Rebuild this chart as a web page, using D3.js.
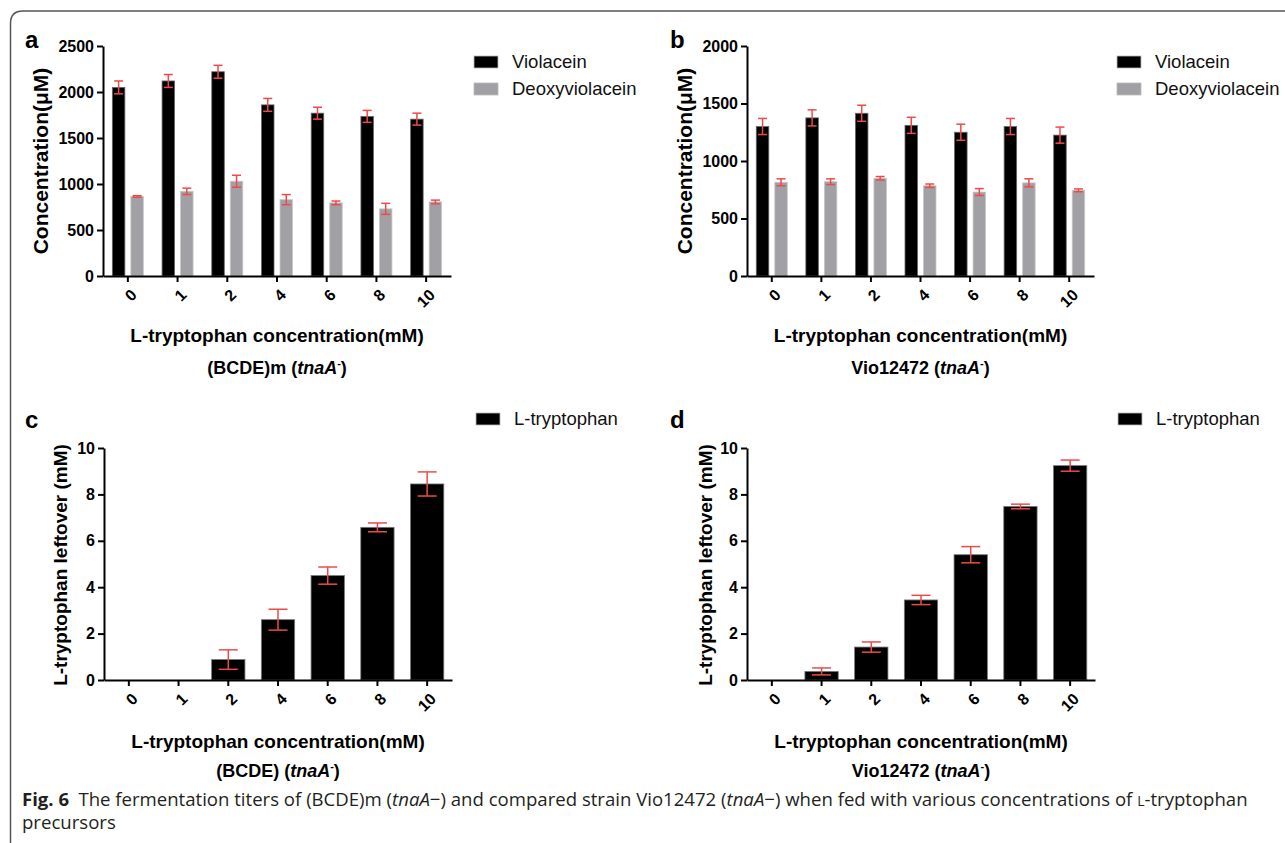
<!DOCTYPE html>
<html><head><meta charset="utf-8">
<script src="https://cdn.jsdelivr.net/npm/d3@7"></script>
<style>
body{margin:0;background:#fff;}
svg{display:block;}
</style></head>
<body>
<svg id="chart" width="1285" height="843"></svg>
<script>
// ---------- data ----------
const categories = ["0","1","2","4","6","8","10"];
const seriesAB = ["Violacein","Deoxyviolacein"];
const violaceinA = [2050, 2120, 2220, 1860, 1770, 1735, 1705];
const violaceinAErr = [70, 70, 70, 70, 65, 65, 65];
const deoxyA = [865, 920, 1030, 830, 795, 730, 805];
const deoxyAErr = [8, 35, 65, 55, 20, 60, 20];
const violaceinB = [1300, 1375, 1415, 1310, 1250, 1300, 1225];
const violaceinBErr = [70, 70, 70, 70, 70, 70, 70];
const deoxyB = [815, 820, 850, 785, 730, 810, 745];
const deoxyBErr = [30, 25, 15, 15, 30, 35, 12];
const leftoverC = [0, 0, 0.88, 2.6, 4.5, 6.58, 8.45];
const leftoverCErr = [0, 0, 0.42, 0.45, 0.37, 0.19, 0.52];
const leftoverD = [0, 0.37, 1.42, 3.45, 5.4, 7.48, 9.24];
const leftoverDErr = [0, 0.15, 0.22, 0.2, 0.35, 0.1, 0.24];
const yTicksA = [0, 500, 1000, 1500, 2000, 2500];
const yTicksB = [0, 500, 1000, 1500, 2000];
const yTicksCD = [0, 2, 4, 6, 8, 10];

const svg = d3.select("#chart");
const FONT = "'Liberation Sans', Arial, sans-serif";
const colors = {Violacein: "#000000", Deoxyviolacein: "#a1a1a5"};
const ERR = "#ee4a4a";

// frame
svg.append("path")
  .attr("d", "M1290,11 L23,11 Q10.5,11 10.5,23.5 L10.5,845")
  .attr("fill", "none").attr("stroke", "#555").attr("stroke-width", 1.5);

function axes(g, x, y, yTicks, x0, x1, y0, y1) {
  const ya = g.append("g").attr("transform", `translate(${x0},0)`)
    .call(d3.axisLeft(y).tickValues(yTicks).tickFormat(d3.format("d"))
      .tickSize(6).tickSizeOuter(0).tickPadding(3));
  const xa = g.append("g").attr("transform", `translate(0,${y0})`)
    .call(d3.axisBottom(x).tickSize(6).tickSizeOuter(0).tickPadding(0));
  [ya, xa].forEach(a => {
    a.select(".domain").attr("stroke", "#000").attr("stroke-width", 2);
    a.selectAll(".tick line").attr("stroke", "#000").attr("stroke-width", 2);
    a.selectAll("text").attr("font-family", FONT).attr("font-weight", "bold")
      .attr("font-size", 16).attr("fill", "#000");
  });
  xa.selectAll(".tick text")
    .attr("text-anchor", "end").attr("dy", "0.35em").attr("y", 0)
    .attr("transform", "translate(6,16) rotate(-45)");
}

function errorBars(g, data, capW) {
  data.forEach(d => {
    if (d.err <= 0) return;
    const eg = g.append("g").attr("stroke", ERR).attr("stroke-width", 1.5);
    eg.append("line").attr("x1", d.cx).attr("x2", d.cx).attr("y1", d.yHi).attr("y2", d.yLo);
    eg.append("line").attr("x1", d.cx - capW/2).attr("x2", d.cx + capW/2).attr("y1", d.yHi).attr("y2", d.yHi);
    eg.append("line").attr("x1", d.cx - capW/2).attr("x2", d.cx + capW/2).attr("y1", d.yLo).attr("y2", d.yLo);
  });
}

function titleWithStrain(g, cx, y1, y2, strain) {
  g.append("text").attr("x", cx).attr("y", y1).attr("text-anchor", "middle")
    .attr("font-family", FONT).attr("font-weight", "bold").attr("font-size", 19)
    .text("L-tryptophan concentration(mM)");
  const t = g.append("text").attr("x", cx).attr("y", y2).attr("text-anchor", "middle")
    .attr("font-family", FONT).attr("font-weight", "bold").attr("font-size", 18);
  t.append("tspan").text(strain + " (");
  t.append("tspan").attr("font-style", "italic").text("tnaA");
  t.append("tspan").attr("font-size", 11).attr("dy", -7).text("-");
  t.append("tspan").attr("dy", 7).text(")");
}

function yLabel(g, x, cy, txt, fs) {
  g.append("text").attr("transform", `translate(${x},${cy}) rotate(-90)`)
    .attr("text-anchor", "middle").attr("font-family", FONT)
    .attr("font-weight", "bold").attr("font-size", fs).text(txt);
}

function panelLetter(g, x, y, L) {
  g.append("text").attr("x", x).attr("y", y).attr("font-family", FONT)
    .attr("font-weight", "bold").attr("font-size", 24).text(L);
}

function legend(g, x, y, items) {
  items.forEach((it, i) => {
    g.append("rect").attr("x", x).attr("y", y + i*27 - 6).attr("width", 24).attr("height", 12)
      .attr("fill", it.color).attr("stroke", "#bbb").attr("stroke-width", 0.8);
    g.append("text").attr("x", x + 38).attr("y", y + i*27).attr("dy", "0.35em")
      .attr("font-family", FONT).attr("font-size", 18.5).attr("fill", "#111").text(it.name);
  });
}

// ---------- grouped panels (a, b) ----------
function groupedPanel(opt) {
  const g = svg.append("g");
  const x = d3.scaleBand().domain(categories).range([opt.x0, opt.x1]).padding(0);
  const y = d3.scaleLinear().domain([0, opt.yMax]).range([opt.y0, opt.y1]);
  const x1 = d3.scaleBand().domain(seriesAB).range([-15.5, 15.5]).paddingInner(0.324);
  const vals = {Violacein: opt.v, Deoxyviolacein: opt.dv};
  const errs = {Violacein: opt.ve, Deoxyviolacein: opt.dve};
  const eb = [];
  seriesAB.forEach(s => {
    g.append("g").selectAll("rect").data(categories).join("rect")
      .attr("x", (c) => x(c) + x.bandwidth()/2 + x1(s))
      .attr("width", x1.bandwidth())
      .attr("y", (c, i) => y(vals[s][i]))
      .attr("height", (c, i) => opt.y0 - y(vals[s][i]))
      .attr("fill", colors[s])
      .attr("stroke", s === "Violacein" ? "#666" : "#c8c8ca").attr("stroke-width", 0.8);
    categories.forEach((c, i) => eb.push({
      cx: x(c) + x.bandwidth()/2 + x1(s) + x1.bandwidth()/2,
      yHi: y(vals[s][i] + errs[s][i]), yLo: y(vals[s][i] - errs[s][i]), err: errs[s][i]}));
  });
  errorBars(g, eb, 9);
  axes(g, x, y, opt.ticks, opt.x0, opt.x1, opt.y0, opt.y1);
  yLabel(g, opt.labX, (opt.y0 + opt.y1)/2, "Concentration(μM)", 21);
  titleWithStrain(g, (opt.x0 + opt.x1)/2, opt.y0 + 66, opt.y0 + 98, opt.strain);
  panelLetter(g, opt.letX, opt.letY, opt.letter);
  legend(g, opt.legX, opt.legY, seriesAB.map(s => ({name: s, color: colors[s]})));
}

groupedPanel({x0: 103, x1: 451, y0: 276, y1: 46, yMax: 2500, ticks: yTicksA,
  v: violaceinA, ve: violaceinAErr, dv: deoxyA, dve: deoxyAErr,
  labX: 48, strain: "(BCDE)m", letter: "a", letX: 25, letY: 48, legX: 474, legY: 62});
groupedPanel({x0: 747, x1: 1094, y0: 276, y1: 46, yMax: 2000, ticks: yTicksB,
  v: violaceinB, ve: violaceinBErr, dv: deoxyB, dve: deoxyBErr,
  labX: 692, strain: "Vio12472", letter: "b", letX: 670, letY: 48, legX: 1117, legY: 62});

// ---------- single panels (c, d) ----------
function singlePanel(opt) {
  const g = svg.append("g");
  const x = d3.scaleBand().domain(categories).range([opt.x0, opt.x1]).padding(0);
  const y = d3.scaleLinear().domain([0, 10]).range([opt.y0, opt.y1]);
  const bw = x.bandwidth() * 0.67;
  g.append("g").selectAll("rect").data(categories).join("rect")
    .attr("x", c => x(c) + (x.bandwidth() - bw)/2)
    .attr("width", bw)
    .attr("y", (c, i) => y(opt.v[i]))
    .attr("height", (c, i) => opt.y0 - y(opt.v[i]))
    .attr("fill", "#000").attr("stroke", "#777").attr("stroke-width", 0.8);
  errorBars(g, categories.map((c, i) => ({cx: x(c) + x.bandwidth()/2,
    yHi: y(opt.v[i] + opt.e[i]), yLo: y(opt.v[i] - opt.e[i]), err: opt.e[i]})), 19);
  axes(g, x, y, yTicksCD, opt.x0, opt.x1, opt.y0, opt.y1);
  yLabel(g, opt.labX, (opt.y0 + opt.y1)/2 + 1, "L-tryptophan leftover (mM)", 19);
  titleWithStrain(g, (opt.x0 + opt.x1)/2, opt.y0 + 68, opt.y0 + 97, opt.strain);
  panelLetter(g, opt.letX, opt.letY, opt.letter);
  legend(g, opt.legX, opt.legY, [{name: "L-tryptophan", color: "#000"}]);
}

singlePanel({x0: 104, x1: 452, y0: 680, y1: 448, v: leftoverC, e: leftoverCErr,
  labX: 67, strain: "(BCDE)", letter: "c", letX: 25, letY: 428, legX: 476, legY: 419});
singlePanel({x0: 747, x1: 1095, y0: 680, y1: 448, v: leftoverD, e: leftoverDErr,
  labX: 712, strain: "Vio12472", letter: "d", letX: 670, letY: 428, legX: 1118, legY: 419});

// ---------- caption ----------
const CAP = "'Open Sans', 'Noto Sans', sans-serif";
const cap1 = svg.append("text").attr("x", 22).attr("y", 806)
  .attr("font-family", CAP).attr("font-size", 16).attr("fill", "#231f20");
cap1.append("tspan").attr("font-weight", "bold").text("Fig. 6");
cap1.append("tspan").text("\u2002The fermentation titers of (BCDE)m (");
cap1.append("tspan").attr("font-style", "italic").text("tnaA");
cap1.append("tspan").text("\u2212) and compared strain Vio12472 (");
cap1.append("tspan").attr("font-style", "italic").text("tnaA");
cap1.append("tspan").text("\u2212) when fed with various concentrations of ");
cap1.append("tspan").attr("font-size", 12).text("L");
cap1.append("tspan").text("-tryptophan");
const cap2 = svg.append("text").attr("x", 22).attr("y", 829)
  .attr("font-family", CAP).attr("font-size", 16).attr("fill", "#231f20").text("precursors");
// fit caption width to the reference line length
const w = cap1.node().getComputedTextLength();
const fs = 16 * 1226 / w;
cap1.attr("font-size", fs); cap1.selectAll("tspan").filter(function(){return this.getAttribute("font-size")==="12";}).attr("font-size", fs*0.75);
cap2.attr("font-size", fs);
</script>
</body></html>
